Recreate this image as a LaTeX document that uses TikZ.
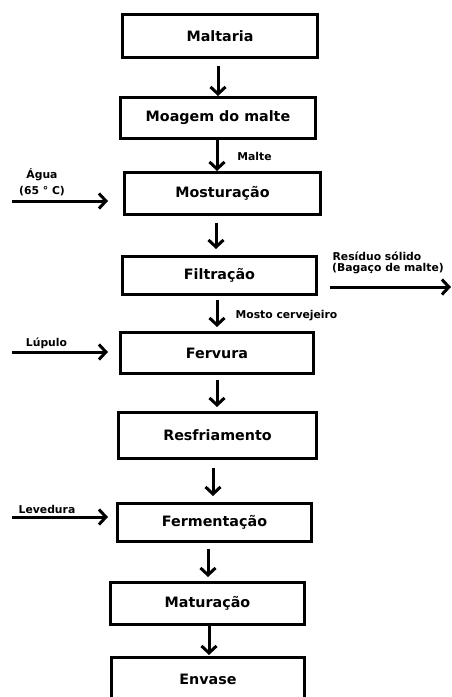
\documentclass[tikz,border=0pt]{standalone}
\usepackage{fontspec}
\setmainfont{DejaVu Sans}
\usetikzlibrary{arrows.meta}
\begin{document}
\begin{tikzpicture}[x=1pt,y=-1pt,
  stepbox/.style={draw=black,line width=3pt,fill=white,inner sep=0pt,font=\bfseries\fontsize{14.3}{16}\selectfont},
  lbl/.style={inner sep=0pt,font=\bfseries\fontsize{10.8}{12}\selectfont,align=center},
  arr/.style={line width=3pt,-{Straight Barb[length=7pt,width=15pt,line width=3pt]}}]
\useasboundingbox (0,0) rectangle (451,697);
\begin{scope}
\clip (0,0) rectangle (451,697);
\node[stepbox,minimum width=195pt,minimum height=43pt] (m1) at (220,36) {Maltaria};
\node[stepbox,minimum width=195pt,minimum height=41pt] (m2) at (218,118) {Moagem do malte};
\node[stepbox,minimum width=196pt,minimum height=42pt] (m3) at (222.5,193.5) {Mosturação};
\node[stepbox,minimum width=194pt,minimum height=38pt] (m4) at (219.5,275.5) {Filtração};
\node[stepbox,minimum width=193pt,minimum height=41pt] (m5) at (217,353) {Fervura};
\node[stepbox,minimum width=198pt,minimum height=46pt] (m6) at (217.5,435.5) {Resfriamento};
\node[stepbox,minimum width=194pt,minimum height=38pt] (m7) at (214.5,522.5) {Fermentação};
\node[stepbox,minimum width=194pt,minimum height=42pt] (m8) at (207.5,603.5) {Maturação};
\node[stepbox,minimum width=193pt,minimum height=60pt,text depth=0pt] (m9) at (208,687.5) {\raisebox{16pt}{Envase}};
\end{scope}
% vertical arrows
\draw[arr,shorten <=7pt] ([xshift=-2pt]m1.south) -- ([xshift=-2pt]m1.south |- m2.north);
\draw[arr] ([xshift=-1pt]m2.south) -- ([xshift=-1pt]m2.south |- m3.north);
\draw[arr,shorten <=7pt,shorten >=6pt] ([xshift=-6.5pt]m3.south) -- ([xshift=-6.5pt]m3.south |- m4.north);
\draw[arr,shorten <=4pt,shorten >=4pt] ([xshift=-2.5pt]m4.south) -- ([xshift=-2.5pt]m4.south |- m5.north);
\draw[arr,shorten <=5pt,shorten >=4pt] (m5.south) -- (m5.south |- m6.north);
\draw[arr,shorten <=8pt,shorten >=6pt] ([xshift=-4.5pt]m6.south) -- ([xshift=-4.5pt]m6.south |- m7.north);
\draw[arr,shorten <=6pt,shorten >=4pt] ([xshift=-6.5pt]m7.south) -- ([xshift=-6.5pt]m7.south |- m8.north);
\draw[arr,shorten >=1pt] ([xshift=1.5pt]m8.south) -- ([xshift=1.5pt]m8.south |- m9.north);
% labels
\node[lbl] (lmalte) at (254.5,156) {Malte};
\node[lbl] (lagua1) at (42,175) {Água};
\node[lbl] (lagua2) at (42,191) {(65 ° C)};
\node[lbl] (lres1) at (377,256) {Resíduo sólido};
\node[lbl] (lres2) at (388,269) {(Bagaço de malte)};
\node[lbl] (lmosto) at (286.5,316) {Mosto cervejeiro};
\node[lbl] (llup) at (46.5,343) {Lúpulo};
\node[lbl] (llev) at (47,509) {Levedura};
% side arrows
\coordinate (inagua) at (12,201);
\coordinate (inlup) at (12,352);
\coordinate (inlev) at (12,517);
\coordinate (outres) at (451,287);
\draw[arr,shorten >=15pt] (inagua) -- (inagua -| m3.west);
\draw[arr,shorten >=11pt] (inlup) -- (inlup -| m5.west);
\draw[arr,shorten >=8pt] (inlev) -- (inlev -| m7.west);
\draw[arr,shorten <=12pt] (m4.east |- outres) -- (outres);
\end{tikzpicture}
\end{document}
